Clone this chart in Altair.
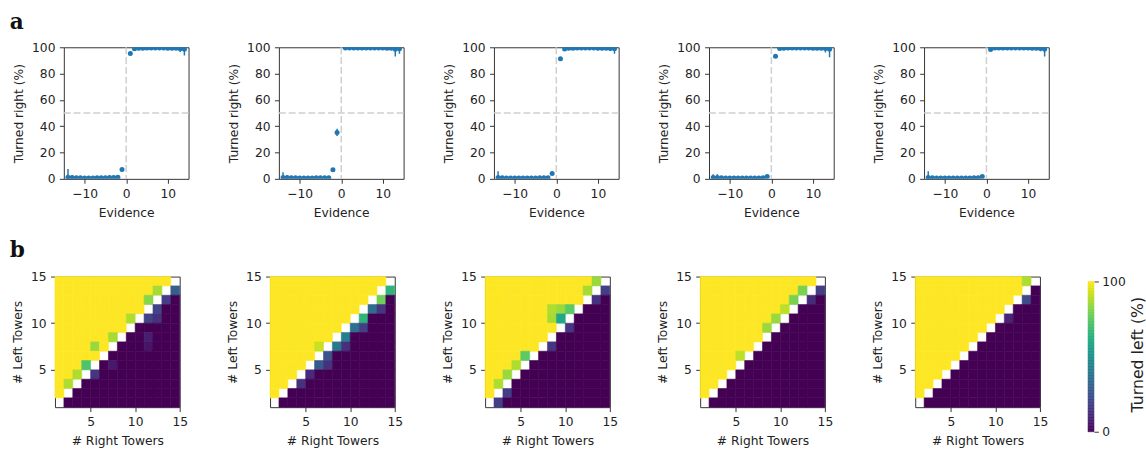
import altair as alt
import pandas as pd

# ---------------- data: psychometric curves (row a) ----------------
EVIDENCE = [-14, -13, -12, -11, -10, -9, -8, -7, -6, -5, -4, -3, -2, -1,
            1, 2, 3, 4, 5, 6, 7, 8, 9, 10, 11, 12, 13, 14]

P1_Y = [1.2, 1.0, 0.8, 0.8, 0.7, 0.7, 0.7, 0.8, 0.8, 0.9, 1.0, 1.0, 1.3, 7.2,
        95.3, 98.8, 99.2, 99.3, 99.4, 99.4, 99.4, 99.4, 99.4, 99.3, 99.3, 99.2, 98.9, 98.5]
P1_E = [6.3, 1.5, 0.5, 0.5, 0.5, 0.5, 0.5, 0.5, 0.5, 0.5, 0.5, 0.6, 0.9, 1.0,
        0.9, 0.6, 0.4, 0.4, 0.4, 0.4, 0.4, 0.4, 0.4, 0.4, 0.5, 0.8, 2.4, 4.7]

P2_Y = [1.0, 1.0, 0.8, 0.8, 0.7, 0.7, 0.7, 0.7, 0.8, 0.8, 0.8, 0.9, 7.0, 35.3,
        99.4, 99.5, 99.5, 99.5, 99.5, 99.5, 99.5, 99.4, 99.4, 99.4, 99.3, 99.2, 98.5, 98.8]
P2_E = [4.0, 1.7, 0.5, 0.4, 0.4, 0.4, 0.4, 0.4, 0.4, 0.4, 0.4, 0.5, 0.8, 2.7,
        0.4, 0.4, 0.4, 0.4, 0.4, 0.4, 0.4, 0.4, 0.4, 0.4, 0.5, 0.7, 5.5, 3.8]

P3_Y = [1.0, 0.8, 0.7, 0.7, 0.7, 0.7, 0.7, 0.7, 0.7, 0.7, 0.8, 0.8, 0.9, 4.0,
        91.3, 98.6, 99.2, 99.3, 99.4, 99.4, 99.4, 99.4, 99.4, 99.3, 99.3, 99.2, 99.0, 98.8]
P3_E = [4.8, 1.3, 0.5, 0.4, 0.4, 0.4, 0.4, 0.4, 0.4, 0.4, 0.4, 0.5, 0.5, 0.8,
        1.0, 0.6, 0.4, 0.4, 0.4, 0.4, 0.4, 0.4, 0.4, 0.4, 0.4, 0.5, 1.5, 3.8]

P4_Y = [1.0, 1.0, 0.8, 0.7, 0.7, 0.7, 0.7, 0.7, 0.7, 0.7, 0.7, 0.7, 0.8, 1.8,
        93.2, 99.0, 99.3, 99.4, 99.4, 99.4, 99.4, 99.4, 99.4, 99.3, 99.3, 99.2, 99.0, 98.5]
P4_E = [2.5, 2.5, 1.2, 0.4, 0.4, 0.4, 0.4, 0.4, 0.4, 0.4, 0.4, 0.4, 0.5, 0.6,
        0.9, 0.5, 0.4, 0.4, 0.4, 0.4, 0.4, 0.4, 0.4, 0.4, 0.4, 0.5, 3.0, 6.0]

P5_Y = [1.0, 0.8, 0.7, 0.7, 0.7, 0.7, 0.7, 0.7, 0.7, 0.7, 0.7, 0.8, 0.9, 1.8,
        98.3, 99.4, 99.4, 99.4, 99.4, 99.4, 99.4, 99.4, 99.4, 99.4, 99.3, 99.2, 99.0, 98.5]
P5_E = [4.7, 1.2, 0.5, 0.4, 0.4, 0.4, 0.4, 0.4, 0.4, 0.4, 0.4, 0.4, 0.5, 0.6,
        0.7, 0.4, 0.4, 0.4, 0.4, 0.4, 0.4, 0.4, 0.4, 0.4, 0.4, 0.5, 2.0, 5.5]

# ---------------- data: turned-left heatmaps (row b) ----------------
# rows: # Left Towers 14 (top) .. 1 (bottom); columns: # Right Towers 1 .. 14
# YY = 100 %, -- = no trials (white), numbers = % turned left
H1 = """
YY YY YY YY YY YY YY YY YY YY YY YY YY --
YY YY YY YY YY YY YY YY YY YY YY 87 -- 30
YY YY YY YY YY YY YY YY YY YY 82 -- 18 00
YY YY YY YY YY YY YY YY YY YY -- 20 00 00
YY YY YY YY YY YY YY YY 88 -- 20 14 00 00
YY YY YY YY YY YY YY YY -- 00 00 00 00 00
YY YY YY YY YY YY 87 -- 00 00 08 00 00 00
YY YY YY YY 85 YY -- 00 00 00 05 00 00 00
YY YY YY YY YY -- 00 00 00 00 00 00 00 00
YY YY YY 72 -- 00 06 00 00 00 00 00 00 00
YY YY 88 -- 15 00 00 00 00 00 00 00 00 00
YY 88 -- 00 00 00 00 00 00 00 00 00 00 00
YY -- 00 00 00 00 00 00 00 00 00 00 00 00
-- 00 00 00 00 00 00 00 00 00 00 00 00 00
"""
H2 = """
YY YY YY YY YY YY YY YY YY YY YY YY YY --
YY YY YY YY YY YY YY YY YY YY YY YY -- 65
YY YY YY YY YY YY YY YY YY YY YY -- 78 00
YY YY YY YY YY YY YY YY YY YY -- 35 15 00
YY YY YY YY YY YY YY YY YY -- 65 00 00 00
YY YY YY YY YY YY YY YY -- 36 18 00 00 00
YY YY YY YY YY YY YY -- 42 00 00 00 00 00
YY YY YY YY YY 92 -- 40 14 00 00 00 00 00
YY YY YY YY YY -- 25 00 00 00 00 00 00 00
YY YY YY YY -- 28 14 00 00 00 00 00 00 00
YY YY YY -- 12 00 00 00 00 00 00 00 00 00
YY YY -- 14 00 00 00 00 00 00 00 00 00 00
YY -- 00 00 00 00 00 00 00 00 00 00 00 00
-- 00 00 00 00 00 00 00 00 00 00 00 00 00
"""
H3 = """
YY YY YY YY YY YY YY YY YY YY YY YY 85 --
YY YY YY YY YY YY YY YY YY YY YY 87 -- 18
YY YY YY YY YY YY YY YY YY YY YY -- 14 00
YY YY YY YY YY YY YY 88 85 75 -- 00 00 00
YY YY YY YY YY YY YY 87 60 -- 00 00 00 00
YY YY YY YY YY YY YY YY -- 15 00 00 00 00
YY YY YY YY YY YY YY -- 00 00 00 00 00 00
YY YY YY YY YY YY -- 15 00 00 00 00 00 00
YY YY YY YY 75 -- 00 00 00 00 00 00 00 00
YY YY YY 88 -- 00 00 00 00 00 00 00 00 00
YY YY 85 -- 00 00 00 00 00 00 00 00 00 00
YY 88 -- 00 00 00 00 00 00 00 00 00 00 00
YY -- 18 00 00 00 00 00 00 00 00 00 00 00
-- 18 00 00 00 00 00 00 00 00 00 00 00 00
"""
H4 = """
YY YY YY YY YY YY YY YY YY YY YY YY YY --
YY YY YY YY YY YY YY YY YY YY YY 80 -- 18
YY YY YY YY YY YY YY YY YY YY 80 -- 12 00
YY YY YY YY YY YY YY YY YY 90 -- 00 00 00
YY YY YY YY YY YY YY YY 85 -- 00 00 00 00
YY YY YY YY YY YY YY 85 -- 00 00 00 00 00
YY YY YY YY YY YY YY -- 00 00 00 00 00 00
YY YY YY YY YY YY -- 00 00 00 00 00 00 00
YY YY YY YY 90 -- 00 00 00 00 00 00 00 00
YY YY YY YY -- 00 00 00 00 00 00 00 00 00
YY YY YY -- 00 00 00 00 00 00 00 00 00 00
YY YY -- 00 00 00 00 00 00 00 00 00 00 00
YY -- 00 00 00 00 00 00 00 00 00 00 00 00
-- 00 00 00 00 00 00 00 00 00 00 00 00 00
"""
H5 = """
YY YY YY YY YY YY YY YY YY YY YY YY 88 --
YY YY YY YY YY YY YY YY YY YY YY YY -- 00
YY YY YY YY YY YY YY YY YY YY YY -- 22 00
YY YY YY YY YY YY YY YY YY YY -- 00 00 00
YY YY YY YY YY YY YY YY YY -- 10 00 00 00
YY YY YY YY YY YY YY YY -- 00 00 00 00 00
YY YY YY YY YY YY YY -- 00 00 00 00 00 00
YY YY YY YY YY YY -- 00 00 00 00 00 00 00
YY YY YY YY YY -- 00 00 00 00 00 00 00 00
YY YY YY YY -- 00 00 00 00 00 00 00 00 00
YY YY YY -- 00 00 00 00 00 00 00 00 00 00
YY YY -- 00 00 00 00 00 00 00 00 00 00 00
YY -- 00 00 00 00 00 00 00 00 00 00 00 00
-- 00 00 00 00 00 00 00 00 00 00 00 00 00
"""

# colour-bar gradient steps (% turned left)
CBAR_STEPS = list(range(0, 100))

BLUE = "#1f77b4"
FONT = "DejaVu Sans"
PANEL_W, TOP_H, BOT_H = 127, 134, 133
CSCALE = alt.Scale(scheme="viridis", domain=[0, 100])


def grid_df(grid):
    rows = [r.split() for r in grid.strip().splitlines()]
    recs = []
    n = len(rows)
    for i, row in enumerate(rows):
        left = n - i
        for j, tok in enumerate(row):
            right = j + 1
            if tok == "--":
                continue
            v = 100 if tok == "YY" else int(tok)
            recs.append({"r0": right, "r1": right + 1, "l0": left, "l1": left + 1, "v": v})
    return pd.DataFrame(recs)


def letter(text, dx, dy):
    return alt.Chart(pd.DataFrame({"t": [text]})).mark_text(
        font="DejaVu Serif", fontSize=22, fontWeight="bold", align="left",
        baseline="alphabetic", color="#111111", clip=False
    ).encode(text="t:N", x=alt.value(dx), y=alt.value(dy))


def spacer(h):
    return alt.Chart(pd.DataFrame({"z": [0]})).mark_rect(opacity=0).encode(
        x=alt.value(0), x2=alt.value(1), y=alt.value(0), y2=alt.value(1)
    ).properties(width=1, height=h, view=alt.ViewBackground(strokeWidth=0))


def psych(ys, errs, tag=None):
    df = pd.DataFrame({
        "e": EVIDENCE, "y": ys,
        "lo": [a - b for a, b in zip(ys, errs)],
        "hi": [a + b for a, b in zip(ys, errs)],
    })
    xs = alt.Scale(domain=[-15, 15], nice=False, zero=False)
    yscale = alt.Scale(domain=[0, 100], nice=False)
    xax = alt.Axis(values=[-10, 0, 10], title="Evidence")
    yax = alt.Axis(values=[0, 20, 40, 60, 80, 100], title="Turned right (%)")
    ref = pd.DataFrame({"z": [0]})
    hline = alt.Chart(ref).mark_rule(color="#cfcfcf", strokeDash=[7, 3], strokeWidth=1.5).encode(
        y=alt.Y(datum=50, scale=yscale, axis=yax))
    vline = alt.Chart(ref).mark_rule(color="#cfcfcf", strokeDash=[7, 3], strokeWidth=1.5).encode(
        x=alt.X(datum=0, scale=xs, axis=xax))
    err = alt.Chart(df).mark_rule(color=BLUE, strokeWidth=1.5, clip=True).encode(
        x=alt.X("e:Q", scale=xs, axis=xax),
        y=alt.Y("lo:Q", scale=yscale, axis=yax),
        y2="hi:Q")
    pts = alt.Chart(df).mark_circle(color=BLUE, size=26, opacity=1, clip=True).encode(
        x=alt.X("e:Q", scale=xs, axis=xax),
        y=alt.Y("y:Q", scale=yscale, axis=yax))
    layers = [hline, vline, err, pts]
    if tag:
        layers.append(letter(tag, -55, -19))
    return alt.layer(*layers).properties(width=PANEL_W, height=TOP_H)


def heat(grid, tag=None):
    df = grid_df(grid)
    sc = alt.Scale(domain=[1, 15], nice=False, zero=False)
    ch = alt.Chart(df).mark_rect(strokeWidth=0.6).encode(
        x=alt.X("r0:Q", scale=sc, axis=alt.Axis(values=[5, 10, 15], title="# Right Towers")),
        x2="r1:Q",
        y=alt.Y("l0:Q", scale=sc, axis=alt.Axis(values=[5, 10, 15], title="# Left Towers")),
        y2="l1:Q",
        color=alt.Color("v:Q", scale=CSCALE, legend=None),
        stroke=alt.Stroke("v:Q", scale=CSCALE, legend=None),
    )
    layers = [ch]
    if tag:
        layers.append(letter(tag, -46, -20))
    return alt.layer(*layers).properties(width=PANEL_W, height=BOT_H)


cb_df = pd.DataFrame({"v0": CBAR_STEPS, "v1": [s + 1 for s in CBAR_STEPS],
                      "v": [s + 0.5 for s in CBAR_STEPS]})
colorbar = alt.Chart(cb_df).mark_rect(strokeWidth=0.6).encode(
    y=alt.Y("v0:Q", scale=alt.Scale(domain=[0, 103.3], nice=False),
            axis=alt.Axis(orient="right", values=[0, 100], title="Turned left (%)",
                          titleAngle=270, titleBaseline="top", titleFontSize=16,
                          titlePadding=5, labelPadding=3.5)),
    y2="v1:Q",
    color=alt.Color("v:Q", scale=CSCALE, legend=None),
    stroke=alt.Stroke("v:Q", scale=CSCALE, legend=None),
).properties(width=6, height=158, view=alt.ViewBackground(strokeWidth=0))

top_panels = alt.hconcat(
    psych(P1_Y, P1_E, "a"), psych(P2_Y, P2_E), psych(P3_Y, P3_E),
    psych(P4_Y, P4_E), psych(P5_Y, P5_E),
    spacing=92, bounds="flush")
top_row = alt.hconcat(spacer(TOP_H), top_panels, spacing=0)

heat_panels = alt.hconcat(
    heat(H1, "b"), heat(H2), heat(H3), heat(H4), heat(H5),
    spacing=92, bounds="flush")
heat_block = alt.hconcat(heat_panels, colorbar, spacing=39)
bottom_row = alt.hconcat(spacer(BOT_H), heat_block, spacing=0)

chart = alt.concat(top_row, bottom_row, columns=1, spacing=19.5).properties(
    padding={"left": 8, "top": 6, "right": 0, "bottom": 0}
).configure_view(
    stroke="#333333", strokeWidth=1
).configure_axis(
    labelFont=FONT, labelFontSize=12.5, labelColor="#222222",
    titleFont=FONT, titleFontSize=12.5, titleFontWeight="normal", titleColor="#222222",
    tickColor="#333333", tickSize=4.5, tickWidth=1, labelPadding=4.5, titlePadding=5,
    domain=False, grid=False, labelFlush=False, labelOverlap=False,
).configure_axisX(
    titlePadding=6.5
).configure_axisY(
    titlePadding=6.5
)

chart.save("out.html", embed_options={"renderer": "svg", "actions": False})
